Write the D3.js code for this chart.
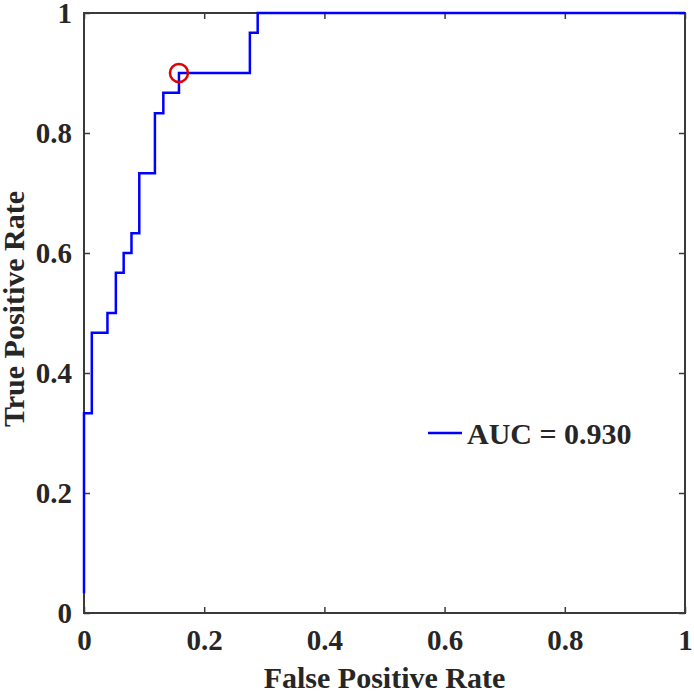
<!DOCTYPE html>
<html>
<head>
<meta charset="utf-8">
<script src="https://cdn.jsdelivr.net/npm/d3@7"></script>
<style>
  html, body { margin: 0; padding: 0; background: #fff; }
  svg text { font-family: "Liberation Serif", "Times New Roman", serif; font-weight: bold; fill: #262626; }
</style>
</head>
<body>
<div id="chart"></div>
<script>
// ─── Data ─────────────────────────────────────────────
const rocFpr = [0, 0, 0.013, 0.013, 0.039, 0.039, 0.053, 0.053, 0.066, 0.066, 0.079, 0.079,
  0.092, 0.092, 0.118, 0.118, 0.132, 0.132, 0.158, 0.158, 0.276, 0.276, 0.289, 0.289, 1];
const rocTpr = [0.033, 0.333, 0.333, 0.467, 0.467, 0.500, 0.500, 0.567, 0.567, 0.600, 0.600, 0.633,
  0.633, 0.733, 0.733, 0.833, 0.833, 0.867, 0.867, 0.900, 0.900, 0.967, 0.967, 1, 1];
const optPoint = { fpr: 0.158, tpr: 0.900 };
const aucLabel = "AUC = 0.930";

const tickValues = [0, 0.2, 0.4, 0.6, 0.8, 1];
const tickLabels = ["0", "0.2", "0.4", "0.6", "0.8", "1"];
const xTitle = "False Positive Rate";
const yTitle = "True Positive Rate";

// ─── Layout ───────────────────────────────────────────
const W = 694, H = 693;
const m = { left: 84, right: 9, top: 13, bottom: 80 };

const svg = d3.select("#chart").append("svg")
  .attr("width", W).attr("height", H);

const x = d3.scaleLinear().domain([0, 1]).range([m.left, W - m.right]);
const y = d3.scaleLinear().domain([0, 1]).range([H - m.bottom, m.top]);

const axisColor = "#3a3a3a";
const fmt = d => tickLabels[tickValues.indexOf(d)];

// ─── Axes (ticks inward, box on) ──────────────────────
function styleAxis(g) {
  g.select(".domain").remove();
  g.selectAll(".tick line").attr("stroke", axisColor).attr("stroke-width", 1.5);
  g.selectAll(".tick text").style("font-size", "29px");
}

svg.append("g")
  .attr("transform", `translate(0,${y(0)})`)
  .call(d3.axisBottom(x).tickValues(tickValues).tickFormat(fmt).tickSizeInner(-6).tickSizeOuter(0).tickPadding(16))
  .call(styleAxis);

svg.append("g")
  .attr("transform", `translate(${x(0)},0)`)
  .call(d3.axisLeft(y).tickValues(tickValues).tickFormat(fmt).tickSizeInner(-6).tickSizeOuter(0).tickPadding(12))
  .call(styleAxis);

svg.append("g")
  .attr("transform", `translate(0,${y(1)})`)
  .call(d3.axisTop(x).tickValues(tickValues).tickFormat("").tickSizeInner(-6).tickSizeOuter(0))
  .call(styleAxis);

svg.append("g")
  .attr("transform", `translate(${x(1)},0)`)
  .call(d3.axisRight(y).tickValues(tickValues).tickFormat("").tickSizeInner(-6).tickSizeOuter(0))
  .call(styleAxis);

svg.append("rect")
  .attr("x", x(0)).attr("y", y(1))
  .attr("width", x(1) - x(0)).attr("height", y(0) - y(1))
  .attr("fill", "none").attr("stroke", axisColor).attr("stroke-width", 2);

// ─── ROC curve ────────────────────────────────────────
const rocData = rocFpr.map((f, i) => ({ fpr: f, tpr: rocTpr[i] }));
svg.append("path")
  .datum(rocData)
  .attr("fill", "none")
  .attr("stroke", "#0000ff")
  .attr("stroke-width", 2.5)
  .attr("d", d3.line().x(d => x(d.fpr)).y(d => y(d.tpr)));

svg.append("circle")
  .attr("cx", x(optPoint.fpr)).attr("cy", y(optPoint.tpr))
  .attr("r", 9)
  .attr("fill", "none").attr("stroke", "#e00000").attr("stroke-width", 2.5);

// ─── Axis titles ──────────────────────────────────────
svg.append("text")
  .attr("x", (x(0) + x(1)) / 2).attr("y", 688)
  .attr("text-anchor", "middle")
  .style("font-size", "30px")
  .text(xTitle);

svg.append("text")
  .attr("transform", `translate(24,${(y(0) + y(1)) / 2 - 4}) rotate(-90)`)
  .attr("text-anchor", "middle")
  .style("font-size", "30px")
  .text(yTitle);

// ─── Legend ───────────────────────────────────────────
const legend = svg.append("g").attr("transform", "translate(428,433)");
legend.append("line")
  .attr("x1", 0).attr("x2", 34).attr("y1", 0).attr("y2", 0)
  .attr("stroke", "#0000ff").attr("stroke-width", 2.5);
legend.append("text")
  .attr("x", 39).attr("y", 11)
  .style("font-size", "30px")
  .text(aucLabel);
</script>
</body>
</html>
